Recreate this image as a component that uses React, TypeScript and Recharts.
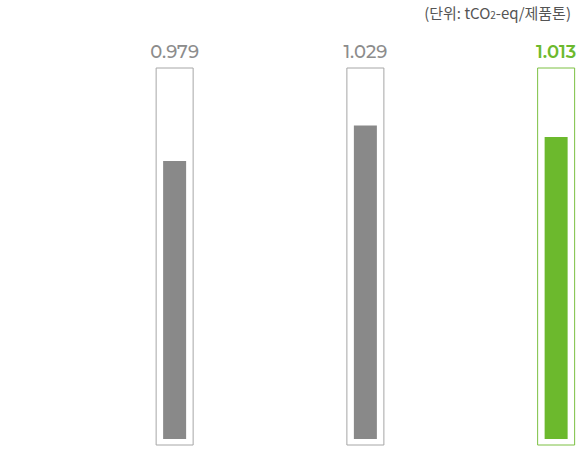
import React from "react";
import { BarChart, Bar, XAxis, YAxis, Cell, LabelList } from "recharts";

const positions = [0, 1, 2];
const values = [0.979, 1.029, 1.013];
const labels = ["0.979", "1.029", "1.013"];
const barColors = ["#898989", "#898989", "#6cb92d"];
const frameColors = ["#a6a6a6", "#a6a6a6", "#7cc043"];
const labelColors = ["#8c8c8c", "#8c8c8c", "#6cb92d"];
const labelWeights = [500, 500, 600];
const unitText = ["(단위: tCO", "2", "-eq/제품톤)"];

const data = positions.map((p, i) => ({
  pos: p,
  value: values[i],
  label: labels[i],
  frame: 1,
}));

const renderLabel = (props: any) => {
  const { x, y, width, index } = props;
  const i = typeof index === "number" ? index : 0;
  return (
    <text
      x={Number(x) + Number(width) / 2}
      y={Number(y) - 10}
      textAnchor="middle"
      fill={labelColors[i]}
      fontSize={18}
      fontWeight={labelWeights[i]}
      fontFamily="Montserrat, 'Noto Sans', Lato, sans-serif"
    >
      {labels[i]}
    </text>
  );
};

export default function App() {
  return (
    <div style={{ position: "absolute", left: 0, top: 0, width: 577, height: 449, background: "#fff" }}>
      <div
        style={{
          position: "absolute",
          right: 6,
          top: 3,
          fontFamily: "'Noto Sans CJK KR', 'Noto Sans', sans-serif",
          fontSize: 15,
          color: "#555",
          whiteSpace: "nowrap",
          lineHeight: "20px",
        }}
      >
        {unitText[0]}
        <span style={{ fontSize: 10 }}>{unitText[1]}</span>
        {unitText[2]}
      </div>
      <BarChart
        width={577}
        height={449}
        data={data}
        margin={{ top: 68, right: 21, bottom: 4, left: 174.5 }}
      >
        <XAxis xAxisId="o" dataKey="pos" type="number" domain={[0, 2]} ticks={positions} hide />
        <XAxis xAxisId="i" dataKey="pos" type="number" domain={[0, 2]} ticks={positions} hide />
        <YAxis yAxisId="o" type="number" domain={[0, 1]} hide />
        <YAxis yAxisId="i" type="number" domain={[0.588, 1.11]} padding={{ top: 0, bottom: 6 }} hide />
        <Bar
          xAxisId="o"
          yAxisId="o"
          dataKey="frame"
          barSize={37}
          fill="#ffffff"
          strokeWidth={1}
          isAnimationActive={false}
        >
          {data.map((d, i) => (
            <Cell key={d.label} fill="#ffffff" stroke={frameColors[i]} />
          ))}
          <LabelList dataKey="label" content={renderLabel} />
        </Bar>
        <Bar
          xAxisId="i"
          yAxisId="i"
          dataKey="value"
          barSize={23}
          isAnimationActive={false}
        >
          {data.map((d, i) => (
            <Cell key={d.label} fill={barColors[i]} />
          ))}
        </Bar>
      </BarChart>
    </div>
  );
}
